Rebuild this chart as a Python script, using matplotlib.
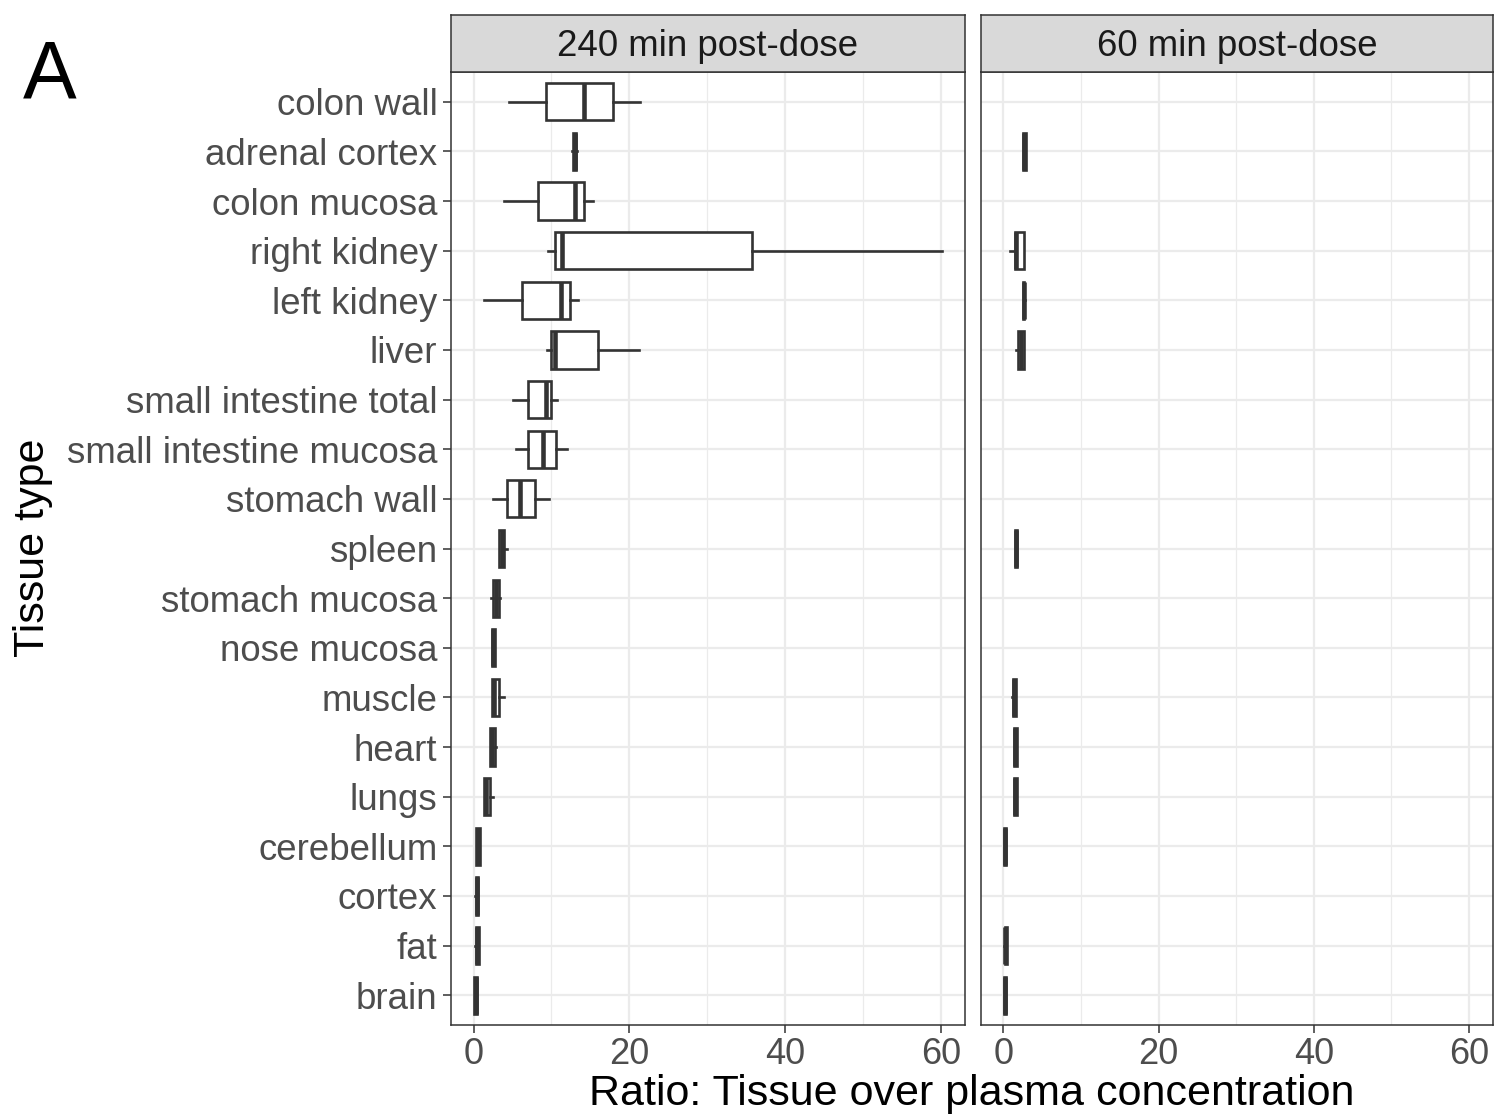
import matplotlib
matplotlib.use('Agg')
import matplotlib.pyplot as plt
import numpy as np
from matplotlib.ticker import MultipleLocator

plt.rcParams['font.family'] = ['Liberation Sans', 'DejaVu Sans']

# ---------------- data ----------------
tissues = ["colon wall", "adrenal cortex", "colon mucosa", "right kidney", "left kidney",
           "liver", "small intestine total", "small intestine mucosa", "stomach wall",
           "spleen", "stomach mucosa", "nose mucosa", "muscle", "heart", "lungs",
           "cerebellum", "cortex", "fat", "brain"]

facets = ["240 min post-dose", "60 min post-dose"]

# 240 min post-dose box statistics
whislo_240 = [4.5, 12.7, 3.9, 9.6, 1.4, 9.4, 5.1, 5.4, 2.5, 3.2, 2.3, 2.35, 2.35, 2.1, 1.3, 0.3, 0.2, 0.2, 0.05]
q1_240     = [9.3, 12.8, 8.3, 10.4, 6.2, 9.9, 7.05, 7.05, 4.3, 3.25, 2.55, 2.4, 2.4, 2.15, 1.35, 0.35, 0.25, 0.25, 0.1]
med_240    = [14.2, 13.0, 13.0, 11.3, 11.2, 10.4, 9.3, 8.85, 6.0, 3.6, 2.9, 2.55, 2.65, 2.4, 1.6, 0.55, 0.4, 0.5, 0.25]
q3_240     = [17.9, 13.2, 14.2, 35.8, 12.4, 16.0, 10.0, 10.6, 7.9, 3.9, 3.3, 2.7, 3.3, 2.7, 2.15, 0.8, 0.6, 0.7, 0.45]
whishi_240 = [21.4, 13.3, 15.3, 60.2, 13.4, 21.2, 10.7, 12.05, 9.65, 4.3, 3.35, 2.75, 3.9, 2.9, 2.55, 0.8, 0.6, 0.75, 0.45]

# 60 min post-dose box statistics (nan = no data)
nan = np.nan
whislo_60 = [nan, 2.5, nan, 0.9, 2.45, 1.55, nan, nan, nan, 1.45, nan, nan, 1.15, 1.35, 1.3, 0.05, nan, 0.1, 0.05]
q1_60     = [nan, 2.55, nan, 1.5, 2.5, 1.9, nan, nan, nan, 1.5, nan, nan, 1.2, 1.4, 1.35, 0.1, nan, 0.15, 0.1]
med_60    = [nan, 2.7, nan, 1.65, 2.6, 2.2, nan, nan, nan, 1.6, nan, nan, 1.35, 1.5, 1.5, 0.2, nan, 0.25, 0.2]
q3_60     = [nan, 2.85, nan, 2.65, 2.7, 2.6, nan, nan, nan, 1.8, nan, nan, 1.55, 1.7, 1.7, 0.35, nan, 0.4, 0.3]
whishi_60 = [nan, 2.9, nan, 2.7, 2.75, 2.65, nan, nan, nan, 1.8, nan, nan, 1.55, 1.7, 1.7, 0.35, nan, 0.4, 0.3]

x_ticks = [0, 20, 40, 60]

# ---------------- figure ----------------
W, H = 1497, 1118
fig = plt.figure(figsize=(W / 100, H / 100), dpi=100)


def rect(x0, y0, x1, y1):
    return [x0 / W, 1 - y1 / H, (x1 - x0) / W, (y1 - y0) / H]


def build_stats(wl, q1, md, q3, wh):
    stats, pos = [], []
    for i in range(len(tissues)):
        if np.isnan(md[i]):
            continue
        stats.append(dict(whislo=wl[i], q1=q1[i], med=md[i], q3=q3[i], whishi=wh[i], fliers=[]))
        pos.append(i)
    return stats, pos


data = [build_stats(whislo_240, q1_240, med_240, q3_240, whishi_240),
        build_stats(whislo_60, q1_60, med_60, q3_60, whishi_60)]

panel_x = [(451, 965), (981, 1493)]
dark = '#333333'
grid_c = '#EBEBEB'
n = len(tissues)

for k, (label, (x0, x1), (stats, pos)) in enumerate(zip(facets, panel_x, data)):
    ax = fig.add_axes(rect(x0, 72, x1, 1025))
    ax.set_axisbelow(True)

    ax.bxp(stats, positions=pos, widths=0.75, orientation='horizontal',
           showfliers=False, showcaps=False, patch_artist=True, manage_ticks=False,
           boxprops=dict(facecolor='white', edgecolor=dark, linewidth=1.9),
           medianprops=dict(color=dark, linewidth=3.3, solid_capstyle='butt'),
           whiskerprops=dict(color=dark, linewidth=1.9))

    ax.set_xlim(-2.9, 63.1)
    ax.set_ylim(n - 1 + 0.6, -0.6)
    ax.set_xticks(x_ticks)
    ax.xaxis.set_minor_locator(MultipleLocator(10))
    ax.set_yticks(range(n))
    ax.grid(which='major', color=grid_c, lw=1.6)
    ax.grid(which='minor', axis='x', color=grid_c, lw=0.9)
    ax.tick_params(which='minor', length=0)
    for s in ax.spines.values():
        s.set_color(dark)
        s.set_linewidth(1.1)

    ax.set_xticklabels([str(t) for t in x_ticks], fontsize=26, color='#4D4D4D')
    ax.tick_params(axis='x', which='major', length=5.8, width=1.1, color=dark, pad=3)
    if k == 0:
        ax.set_yticklabels(tissues, fontsize=26.4, color='#4D4D4D')
        ax.tick_params(axis='y', which='major', length=5.8, width=1.1, color=dark, pad=4)
    else:
        ax.tick_params(axis='y', which='major', length=0, labelleft=False)

    # strip
    sax = fig.add_axes(rect(x0, 15, x1, 72))
    sax.set_facecolor('#D9D9D9')
    sax.set_xticks([])
    sax.set_yticks([])
    for s in sax.spines.values():
        s.set_color(dark)
        s.set_linewidth(1.1)
    sax.text(0.5, 0.45, label, ha='center', va='center', fontsize=26.4,
             color='#1A1A1A', transform=sax.transAxes)

fig.text(972 / W, 1 - 1094 / H, "Ratio: Tissue over plasma concentration",
         ha='center', va='center', fontsize=31, color='black')
fig.text(33 / W, 1 - 548 / H, "Tissue type", ha='center', va='center',
         rotation=90, fontsize=31, color='black')
fig.text(50 / W, 1 - 76 / H, "A", ha='center', va='center', fontsize=58, color='black')

fig.savefig('out.png', dpi=100, facecolor='white')
